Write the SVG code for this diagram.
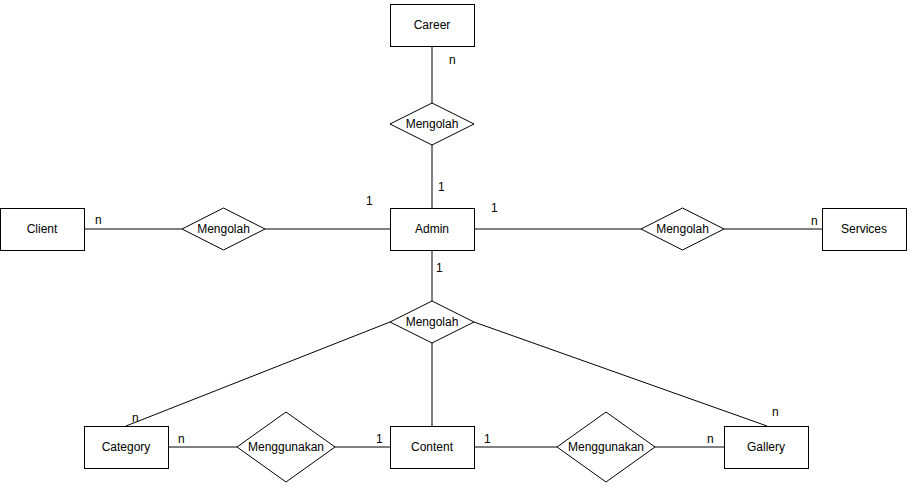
<svg xmlns="http://www.w3.org/2000/svg" width="916" height="490" viewBox="0 0 916 490">
<style>
.ent rect{fill:#fff;stroke:#000;stroke-width:1}
.rel polygon{fill:#fff;stroke:#000;stroke-width:1}
text{font-family:"Liberation Sans",Arial,Helvetica,sans-serif;font-size:12px;fill:#000}
.c{text-anchor:middle;dominant-baseline:central}
#connectors line{stroke:#000;stroke-width:1}
</style>
<rect width="916" height="490" fill="#fff"/>
<g id="connectors">
<line x1="432" y1="46" x2="432" y2="103"/>
<line x1="432" y1="144" x2="432" y2="208"/>
<line x1="84" y1="229" x2="182" y2="229"/>
<line x1="265" y1="229" x2="390" y2="229"/>
<line x1="474" y1="229" x2="641" y2="229"/>
<line x1="724" y1="229" x2="822" y2="229"/>
<line x1="432" y1="250" x2="432" y2="301"/>
<line x1="390" y1="322" x2="126" y2="426"/>
<line x1="474" y1="322" x2="767" y2="426"/>
<line x1="432" y1="343" x2="432" y2="426"/>
<line x1="168" y1="447" x2="237" y2="447"/>
<line x1="335" y1="447" x2="390" y2="447"/>
<line x1="474" y1="447" x2="557" y2="447"/>
<line x1="655" y1="447" x2="724" y2="447"/>
</g>
<g id="career" class="ent"><rect x="390.5" y="4.5" width="84" height="42"/><text class="c" x="432" y="25">Career</text></g>
<g id="admin" class="ent"><rect x="390.5" y="208.5" width="84" height="42"/><text class="c" x="432" y="229">Admin</text></g>
<g id="client" class="ent"><rect x="0.5" y="208.5" width="84" height="42"/><text class="c" x="42" y="229">Client</text></g>
<g id="services" class="ent"><rect x="822.5" y="208.5" width="84" height="42"/><text class="c" x="864" y="229">Services</text></g>
<g id="category" class="ent"><rect x="84.5" y="426.5" width="84" height="42"/><text class="c" x="126" y="447">Category</text></g>
<g id="content" class="ent"><rect x="390.5" y="426.5" width="84" height="42"/><text class="c" x="432" y="447">Content</text></g>
<g id="gallery" class="ent"><rect x="724.5" y="426.5" width="84" height="42"/><text class="c" x="766" y="447">Gallery</text></g>
<g id="rel-career" class="rel"><polygon points="432,103 474,124 432,145 390,124"/><text class="c" x="432" y="124">Mengolah</text></g>
<g id="rel-client" class="rel"><polygon points="223.5,208 265,229 223.5,250 182,229"/><text class="c" x="223.5" y="229">Mengolah</text></g>
<g id="rel-services" class="rel"><polygon points="682.5,208 724,229 682.5,250 641,229"/><text class="c" x="682.5" y="229">Mengolah</text></g>
<g id="rel-content" class="rel"><polygon points="432,301 474,322 432,343 390,322"/><text class="c" x="432" y="322">Mengolah</text></g>
<g id="rel-category" class="rel"><polygon points="286,412 335,447 286,482 237,447"/><text class="c" x="286" y="447">Menggunakan</text></g>
<g id="rel-gallery" class="rel"><polygon points="606,412 655,447 606,482 557,447"/><text class="c" x="606" y="447">Menggunakan</text></g>
<g id="labels">
<text x="449" y="64">n</text>
<text x="438" y="191">1</text>
<text x="366" y="205">1</text>
<text x="491" y="212">1</text>
<text x="436" y="272">1</text>
<text x="95" y="224">n</text>
<text x="811" y="225">n</text>
<text x="132" y="422">n</text>
<text x="178" y="443">n</text>
<text x="376" y="443">1</text>
<text x="484" y="443">1</text>
<text x="707" y="443">n</text>
<text x="772" y="416">n</text>
</g>
</svg>
